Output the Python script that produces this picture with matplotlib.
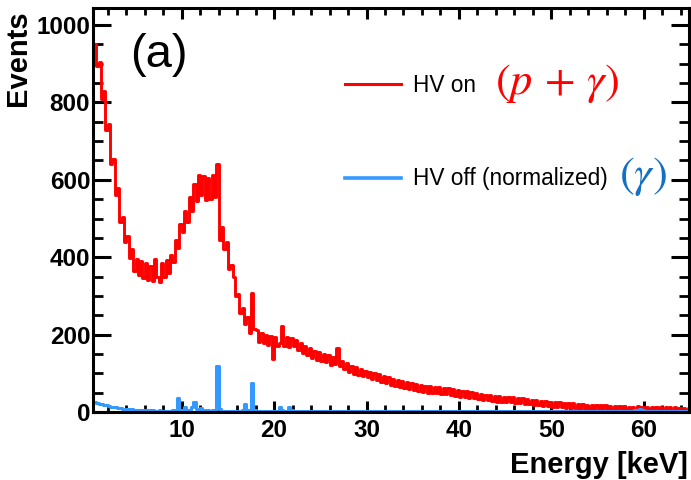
import numpy as np
import matplotlib
matplotlib.use('Agg')
import matplotlib.pyplot as plt
from matplotlib.ticker import MultipleLocator
from matplotlib.lines import Line2D

plt.rcParams['font.family'] = ['Liberation Sans', 'DejaVu Sans']
plt.rcParams['mathtext.fontset'] = 'stix'

# Histogram binning (keV)
bin_start = 0.5
bin_width = 0.25

# HV on (p + gamma), counts per bin, 0.5 .. 65 keV
hv_on = [
    950, 895, 905, 810, 830, 730, 745, 640, 655, 560, 580, 490, 505, 440, 455, 398, 420, 365, 395, 355,
    390, 345, 385, 340, 378, 338, 395, 350, 335, 385, 348, 392, 360, 405, 388, 445, 425, 485, 465, 520,
    490, 555, 520, 590, 545, 612, 560, 610, 548, 605, 550, 612, 555, 640, 445, 478, 420, 440, 370, 380,
    350, 300, 305, 255, 270, 228, 245, 205, 308, 215, 212, 182, 205, 178, 200, 172, 196, 138, 195, 170,
    178, 222, 170, 195, 168, 192, 170, 185, 160, 178, 152, 170, 148, 165, 140, 158, 135, 155, 132, 150,
    128, 148, 122, 142, 125, 165, 118, 132, 110, 126, 104, 120, 98, 115, 96, 110, 92, 106, 90, 104,
    86, 101, 82, 97, 78, 93, 74, 90, 70, 86, 68, 83, 64, 80, 62, 78, 60, 75, 56, 72,
    54, 70, 52, 68, 50, 66, 49, 64, 48, 65, 47, 63, 46, 62, 45, 60, 42, 58, 40, 55,
    39, 53, 37, 51, 35, 49, 33, 47, 31, 45, 30, 43, 28, 42, 27, 41, 26, 40, 25, 39,
    25, 38, 24, 36, 22, 35, 21, 33, 20, 32, 18, 31, 17, 29, 16, 28, 15, 27, 14, 26,
    13, 25, 12, 24, 11, 23, 10, 22, 10, 21, 9, 20, 9, 19, 8, 19, 7, 18, 7, 18,
    7, 17, 6, 16, 6, 16, 5, 15, 5, 15, 5, 14, 4, 14, 6, 16, 5, 14, 4, 14,
    4, 14, 4, 13, 4, 13, 3, 12, 3, 12, 3, 12, 3, 11, 3, 11, 2, 11,
]

# HV off (normalized, gamma only), counts per bin, 0.5 .. 65 keV
hv_off = [
    25, 23, 21, 20, 18, 17, 15, 14, 13, 12, 11, 10, 9, 9, 8, 7, 7, 6, 6, 5,
    5, 5, 4, 4, 4, 4, 3, 3, 4, 3, 3, 3, 3, 3, 4, 3, 37, 6, 4, 12,
    5, 4, 14, 25, 8, 4, 10, 4, 3, 6, 3, 4, 3, 118, 8, 3, 3, 3, 3, 3,
    3, 3, 3, 3, 6, 20, 4, 5, 75, 6, 3, 3, 3, 3, 3, 3, 3, 3, 3, 3,
    12, 4, 3, 3, 14, 4, 3, 3, 3, 2, 2, 2, 2, 2, 2, 2, 3, 2, 2, 2,
    2, 2, 3, 2, 2, 2, 2, 2, 2, 2, 2, 2, 2, 2, 2, 2, 2, 2, 2, 2,
    2, 2, 2, 2, 2, 2, 2, 2, 2, 2, 2, 2, 2, 2, 2, 2, 2, 2, 2, 2,
    2, 2, 2, 2, 2, 2, 2, 2, 2, 2, 2, 2, 2, 2, 2, 2, 2, 2, 2, 2,
    2, 2, 2, 2, 2, 2, 2, 2, 2, 2, 2, 2, 2, 2, 2, 2, 2, 2, 2, 2,
    2, 2, 2, 2, 2, 2, 2, 2, 2, 2, 2, 2, 2, 2, 2, 2, 2, 2, 2, 2,
    2, 2, 2, 2, 2, 2, 2, 2, 2, 2, 2, 2, 2, 2, 2, 2, 2, 2, 2, 2,
    2, 2, 2, 2, 2, 2, 2, 2, 2, 2, 2, 2, 2, 3, 4, 4, 8, 5, 2, 2,
    2, 2, 2, 2, 2, 2, 2, 2, 2, 2, 2, 2, 2, 2, 2, 2, 2, 2,
]

x_major = [10, 20, 30, 40, 50, 60]
y_major = [0, 200, 400, 600, 800, 1000]
legend_labels = ['HV on', 'HV off (normalized)']

edges = bin_start + bin_width * np.arange(len(hv_on) + 1)

RED = '#ff0000'
BLUE = '#3399ff'

fig = plt.figure(figsize=(6.91, 4.80), dpi=100)
ax = fig.add_axes([93 / 691, 1 - 412 / 480, 596 / 691, 404 / 480])

ax.step(edges, list(hv_on) + [hv_on[-1]], where='post', color=RED, lw=2.1)
ax.step(edges, list(hv_off) + [hv_off[-1]], where='post', color=BLUE, lw=2.2)

ax.set_xlim(0.4, 64.9)
ax.set_ylim(0, 1044)

ax.set_xticks(x_major)
ax.set_yticks(y_major)
ax.xaxis.set_minor_locator(MultipleLocator(2))
ax.yaxis.set_minor_locator(MultipleLocator(50))

for s in ax.spines.values():
    s.set_linewidth(2.2)

ax.tick_params(axis='y', which='major', direction='in', length=13, width=2.2,
               left=True, right=True, labelsize=17.5, pad=2)
ax.tick_params(axis='y', which='minor', direction='in', length=7, width=2,
               left=True, right=True)
ax.tick_params(axis='x', which='major', direction='in', length=8, width=2.2,
               top=True, bottom=True, labelsize=17.5, pad=5)
ax.tick_params(axis='x', which='minor', direction='in', length=5, width=2,
               top=True, bottom=True)
for lab in ax.get_xticklabels() + ax.get_yticklabels():
    lab.set_fontweight('bold')

# Axis labels
fig.text(18 / 691, 1 - 10 / 480, 'Events', rotation=90, ha='center', va='top',
         fontsize=21, fontweight='bold')
fig.text(688 / 691, 1 - 473 / 480, 'Energy [keV]', ha='right', va='baseline',
         fontsize=21, fontweight='bold')

# Panel label
ax.text(0.062, 0.854, '(a)', transform=ax.transAxes, fontsize=34,
        ha='left', va='baseline')

# Legend
handles = [Line2D([], [], color=RED, lw=2.2), Line2D([], [], color=BLUE, lw=2.6)]
ax.legend(handles, legend_labels, loc='upper left', bbox_to_anchor=(0.423, 0.836),
          frameon=False, fontsize=16.3, handlelength=2.45, handletextpad=0.55,
          labelspacing=3.1, borderpad=0, borderaxespad=0)

ax.text(0.675, 0.814, r'$(p\,+\,\gamma)$', transform=ax.transAxes, fontsize=32,
        color=RED, ha='left', va='center')
ax.text(0.882, 0.584, r'$(\gamma)$', transform=ax.transAxes, fontsize=32,
        color='#1470c4', ha='left', va='center')

fig.savefig('out.png', dpi=100)
